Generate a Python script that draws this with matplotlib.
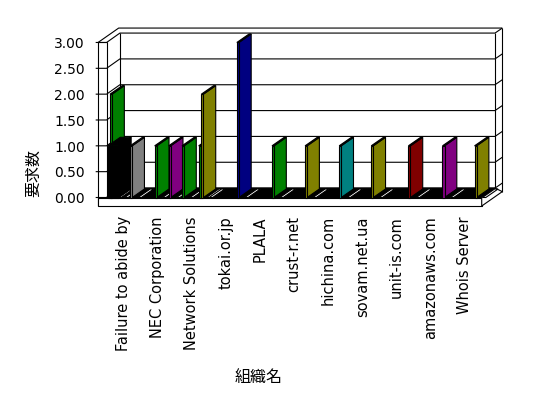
import matplotlib
matplotlib.use("Agg")
import matplotlib.pyplot as plt
from matplotlib.patches import Polygon

# データ: 組織名ごとの要求数 (擬似3D縦棒グラフ)
categories = ["Failure to abide by", "NEC Corporation", "Network Solutions", "tokai.or.jp",
              "PLALA", "crust-r.net", "hichina.com", "sovam.net.ua", "unit-is.com",
              "amazonaws.com", "Whois Server"]

bar_category = [0, 0, 0, 1, 1, 2, 2, 2, 3, 4, 5, 6, 7, 8, 9, 10]
bar_value = [2, 1, 1, 1, 1, 1, 1, 2, 3, 1, 1, 1, 1, 1, 1, 1]

y_ticks = [0.0, 0.5, 1.0, 1.5, 2.0, 2.5, 3.0]
y_tick_labels = ["0.00", "0.50", "1.00", "1.50", "2.00", "2.50", "3.00"]

# 見た目 (色, 位置, 幅)
bar_color = ["#008000", "#000000", "#808080", "#008000", "#800080", "#008000", "#008000",
             "#808000", "#000080", "#008000", "#808000", "#008080", "#808000", "#800000",
             "#800080", "#808000"]
bar_offset = [0.10, 0.04, 0.69, 0.41, 0.82, 0.21, 0.70, 0.78, 0.82, 0.85, 0.82, 0.82,
              0.76, 0.85, 0.85, 0.79]
bar_width = [0.06, 0.32, 0.06, 0.06, 0.06, 0.06, 0.06, 0.06, 0.06, 0.06, 0.06, 0.06,
             0.06, 0.06, 0.06, 0.06]

n = len(categories)
ymax = y_ticks[-1]
dxi, dyi = 0.39, 0.182     # 奥行き (内側の壁)
dxo, dyo = 0.604, 0.279    # 奥行き (外側)
bdx, bdy = 0.36, 0.165     # 棒の奥行き
wall = 0.25                # 左の壁の厚さ
slab = 0.165               # 床の厚さ
lw = 0.8

fig = plt.figure(figsize=(5.48, 3.98), dpi=100)
ax = fig.add_axes([0, 0, 1, 1])
ax.set_xlim(-3.126, 12.944)
ax.set_ylim(-3.880, 3.822)
ax.axis("off")


def line(xs, ys):
    ax.plot(xs, ys, color="black", lw=lw, solid_capstyle="butt")


def poly(pts, fc, z):
    ax.add_patch(Polygon(pts, closed=True, facecolor=fc, edgecolor="black", lw=lw, zorder=z))


# 床 (上面)
poly([(0, 0), (n, 0), (n + dxi, dyi), (dxi, dyi)], "black", 2)

# 目盛線 (左の壁・奥の壁・右端)
for y in y_ticks:
    line([-wall - 0.07, 0, dxi, n + dxi, n + dxo], [y, y, y + dyi, y + dyi, y + dyo])

# 奥の壁・左の壁の枠
line([dxi, dxi], [dyi, ymax + dyi])
line([n + dxi, n + dxi], [dyi, ymax + dyi])
line([n + dxo, n + dxo], [-slab + dyo, ymax + dyo])
line([-wall, -wall + dxo, n + dxo], [ymax, ymax + dyo, ymax + dyo])
line([-wall, 0], [ymax, ymax])
line([-wall, -wall], [-slab, ymax])
line([0, 0], [0, ymax])

# 床の側面
poly([(-wall, -slab), (n, -slab), (n, 0), (-wall, 0)], "white", 3)
poly([(n, -slab), (n + dxo, -slab + dyo), (n + dxi, dyi), (n, 0)], "white", 3)
for i in range(1, n):
    line([i, i], [-slab, 0])

# 値0の棒の上面 (床の白い帯)
for c, off, w in zip(bar_category, bar_offset, bar_width):
    x0 = c + off + w + 0.17
    poly([(x0, 0), (x0 + 0.1, 0), (x0 + 0.1 + bdx, bdy), (x0 + bdx, bdy)], "white", 4)

# 棒
for k, (c, v, col, off, w) in enumerate(zip(bar_category, bar_value, bar_color,
                                               bar_offset, bar_width)):
    x0 = c + off
    x1 = x0 + w
    z = 5 + k * 0.01
    poly([(x1, 0), (x1 + bdx, bdy), (x1 + bdx, v + bdy), (x1, v)], col, z)
    poly([(x0, v), (x1, v), (x1 + bdx, v + bdy), (x0 + bdx, v + bdy)], col, z)
    poly([(x0, 0), (x1, 0), (x1, v), (x0, v)], col, z)

# 軸ラベル
for y, lab in zip(y_ticks, y_tick_labels):
    ax.text(-0.633, y - 0.035, lab, ha="right", va="center", fontsize=10,
            family="DejaVu Sans")

for i, name in enumerate(categories):
    ax.text(i + 0.5, -0.358, name, rotation=90, ha="center", va="top", fontsize=10.5,
            family="DejaVu Sans")

ax.text(-2.13, 0.474, "要求数", rotation=90, ha="center", va="center", fontsize=11.5,
        family=["Noto Sans CJK JP", "DejaVu Sans"])
ax.text(4.47, -3.474, "組織名", ha="center", va="center", fontsize=11.5,
        family=["Noto Sans CJK JP", "DejaVu Sans"])

fig.savefig("out.png", dpi=100, facecolor="white")
